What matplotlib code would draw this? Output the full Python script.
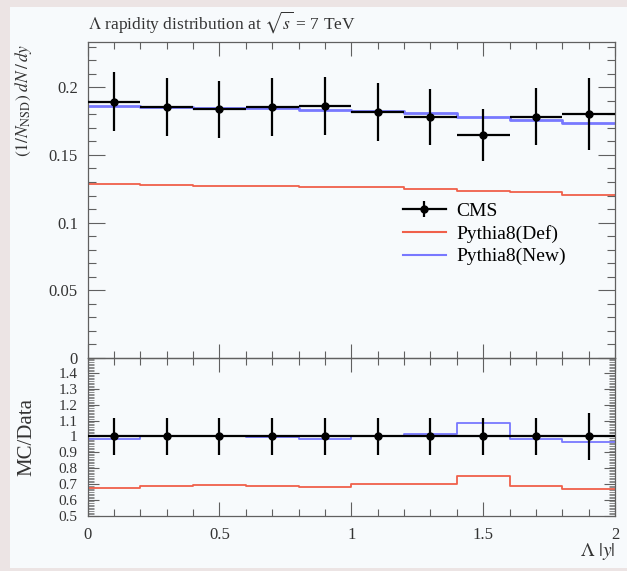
import matplotlib
matplotlib.use('Agg')
import matplotlib.pyplot as plt
import numpy as np
from matplotlib.ticker import MultipleLocator
from matplotlib.lines import Line2D

plt.rcParams['font.family'] = ['Liberation Serif', 'DejaVu Serif']
plt.rcParams['mathtext.fontset'] = 'stix'

# bins in |y|
edges = [0.0, 0.2, 0.4, 0.6, 0.8, 1.0, 1.2, 1.4, 1.6, 1.8, 2.0]

# CMS data
cms = [0.1893, 0.1856, 0.1837, 0.1852, 0.1861, 0.1815, 0.1782, 0.1647, 0.1782, 0.1802]
cms_err = [0.0219, 0.0215, 0.0212, 0.0214, 0.0217, 0.0215, 0.0207, 0.0194, 0.0209, 0.0266]

# Pythia8 predictions
py_def = [0.1283, 0.1276, 0.1270, 0.1268, 0.1263, 0.1265, 0.1250, 0.1233, 0.1224, 0.1206]
py_new = [0.1861, 0.1856, 0.1844, 0.1849, 0.1832, 0.1824, 0.1807, 0.1782, 0.1758, 0.1738]

red = '#f0604a'
blue = '#7878ff'
frame = '#606060'
txt = '#333333'

edges = np.array(edges)
centers = 0.5 * (edges[:-1] + edges[1:])
halfw = 0.5 * np.diff(edges)
cms = np.array(cms)
cms_err = np.array(cms_err)


def step_vals(v):
    return np.append(v, v[-1])


fig = plt.figure(figsize=(6.27, 5.71), dpi=100)
fig.patch.set_facecolor('#ece4e4')
# light inner panel
fig.patches.append(plt.Rectangle((10 / 627, 1 - 568 / 571), 1, (568 - 7) / 571,
                                 transform=fig.transFigure, facecolor='#f7fafc',
                                 edgecolor='none', zorder=-10))

L, R = 87.5 / 627, 615 / 627
top_main, bot_main = 1 - 42 / 571, 1 - 358 / 571
bot_ratio = 1 - 515.7 / 571

ax = fig.add_axes([L, bot_main, R - L, top_main - bot_main])
axr = fig.add_axes([L, bot_ratio, R - L, bot_main - bot_ratio])

for a in (ax, axr):
    a.set_facecolor('none')
    for s in a.spines.values():
        s.set_color(frame)
        s.set_linewidth(0.9)
    a.set_xlim(0, 2)
    a.xaxis.set_major_locator(MultipleLocator(0.5))
    a.xaxis.set_minor_locator(MultipleLocator(0.1))
    a.tick_params(which='both', direction='in', top=True, right=True, colors=frame,
                  labelcolor=txt, labelsize=12, width=0.8)
    a.tick_params(which='major', length=10)
    a.tick_params(which='minor', length=5)

# main panel
ax.step(edges, step_vals(np.array(py_def)), where='post', color=red, lw=1.3)
ax.step(edges, step_vals(np.array(py_new)), where='post', color=blue, lw=2.0)
ax.errorbar(centers, cms, xerr=halfw, yerr=cms_err, fmt='o', color='black',
            ms=5, elinewidth=1.6, capsize=0, zorder=5)
ax.set_ylim(0, 0.2334)
ax.set_yticks([0, 0.05, 0.1, 0.15, 0.2])
ax.set_yticklabels(['0', '0.05', '0.1', '0.15', '0.2'])
ax.yaxis.set_minor_locator(MultipleLocator(0.01))
ax.tick_params(axis='x', labelbottom=False)
ax.tick_params(axis='y', which='major', length=12, pad=7)
ax.tick_params(axis='y', which='minor', length=6)

cms_handle = (Line2D([], [], color='black', lw=1.6),
              Line2D([], [], color='black', marker='|', ms=11, mew=1.6, ls='none'),
              Line2D([], [], color='black', marker='o', ms=5, ls='none'))
def_handle = Line2D([], [], color=red, lw=1.5)
new_handle = Line2D([], [], color=blue, lw=1.5)
ax.legend([cms_handle, def_handle, new_handle], ['CMS', 'Pythia8(Def)', 'Pythia8(New)'],
          loc='upper left', bbox_to_anchor=(0.598, 0.492), frameon=False, fontsize=14,
          borderpad=0, borderaxespad=0, handlelength=2.2, handletextpad=0.55,
          labelspacing=0.25)

# ratio panel
ratio_def = np.array(py_def) / cms
ratio_new = np.array(py_new) / cms
axr.step(edges, step_vals(ratio_def), where='post', color=red, lw=1.3)
axr.step(edges, step_vals(ratio_new), where='post', color=blue, lw=1.3)
axr.errorbar(centers, np.ones_like(cms), xerr=halfw, yerr=cms_err / cms, fmt='o',
             color='black', ms=5, elinewidth=1.6, capsize=0, zorder=5)
axr.set_ylim(0.5, 1.495)
axr.set_yticks([0.5, 0.6, 0.7, 0.8, 0.9, 1.0, 1.1, 1.2, 1.3, 1.4])
axr.set_yticklabels(['0.5', '0.6', '0.7', '0.8', '0.9', '1', '1.1', '1.2', '1.3', '1.4'])
axr.yaxis.set_minor_locator(MultipleLocator(0.01))
axr.tick_params(axis='y', which='major', length=8, pad=7, labelsize=11)
axr.tick_params(axis='y', which='minor', length=4, width=0.5)
axr.set_xticks([0, 0.5, 1, 1.5, 2])
axr.set_xticklabels(['0', '0.5', '1', '1.5', '2'])
axr.tick_params(axis='x', pad=8)

# texts
fig.text(L, 1 - 22 / 571, r'$\Lambda$ rapidity distribution at $\sqrt{s}$ = 7 TeV',
         ha='left', va='center', fontsize=12.5, color=txt)
fig.text(23 / 627, 1 - 44 / 571, r'$(1/N_{\mathrm{NSD}})\ dN\,/\,dy$', rotation=90,
         ha='center', va='top', fontsize=12.5, color=txt)
fig.text(27 / 627, 1 - 437 / 571, 'MC/Data', rotation=90, ha='center', va='center',
         fontsize=15, color=txt)
fig.text(R, 1 - 552 / 571, r'$\Lambda\ |y|$', ha='right', va='center', fontsize=14,
         color=txt)

fig.savefig('out.png', dpi=100, facecolor=fig.get_facecolor())
